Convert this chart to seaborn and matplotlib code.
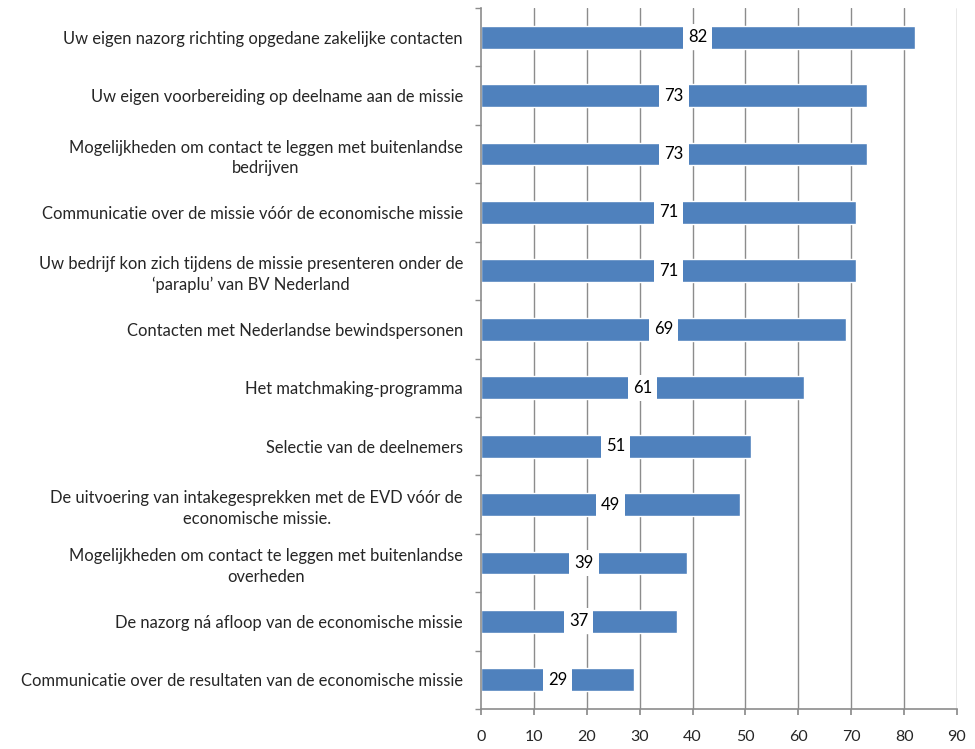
import matplotlib
matplotlib.use("Agg")
import matplotlib.pyplot as plt
import seaborn as sns
import pandas as pd
import numpy as np

categories = [
    "Uw eigen nazorg richting opgedane zakelijke contacten",
    "Uw eigen voorbereiding op deelname aan de missie",
    "Mogelijkheden om contact te leggen met buitenlandse\nbedrijven",
    "Communicatie over de missie vóór de economische missie",
    "Uw bedrijf kon zich tijdens de missie presenteren onder de\n‘paraplu’ van BV Nederland",
    "Contacten met Nederlandse bewindspersonen",
    "Het matchmaking-programma",
    "Selectie van de deelnemers",
    "De uitvoering van intakegesprekken met de EVD vóór de\neconomische missie.",
    "Mogelijkheden om contact te leggen met buitenlandse\noverheden",
    "De nazorg ná afloop van de economische missie",
    "Communicatie over de resultaten van de economische missie",
]
values = [82, 73, 73, 71, 71, 69, 61, 51, 49, 39, 37, 29]
x_ticks = list(range(0, 100, 10))

sns.set_theme(style="white")
plt.rcParams["font.family"] = ["Lato", "DejaVu Sans"]

df = pd.DataFrame({"categorie": categories, "waarde": values})

fig = plt.figure(figsize=(9.75, 7.49), dpi=100)
ax = fig.add_axes([0.4933, 0.0534, 0.9815 - 0.4933, 0.9893 - 0.0534])

grid_color = "#8c8c8c"
ax.set_axisbelow(True)
for t in x_ticks[1:]:
    ax.axvline(t, color=grid_color, lw=1.0, zorder=0)

sns.barplot(data=df, y="categorie", x="waarde", orient="h", color="#4F81BD",
            saturation=1, width=0.39, ax=ax, zorder=2)

for i, v in enumerate(values):
    ax.text(v / 2, i, f"{v}", ha="center", va="center", fontsize=12, color="black",
            zorder=3, bbox=dict(boxstyle="square,pad=0.3", fc="white", ec="none"))

ax.set_xlim(0, 90)
ax.set_ylim(len(categories) - 0.5, -0.5)
ax.set_xticks(x_ticks)
ax.set_xticklabels([str(t) for t in x_ticks], fontsize=11.5)
ax.set_yticks(np.arange(len(categories)))
ax.set_yticklabels(categories, fontsize=11.9, ha="right", multialignment="center",
                   linespacing=1.35)
ax.tick_params(axis="y", length=0, pad=13)
ax.set_yticks(np.arange(-0.5, len(categories), 1.0), minor=True)
ax.tick_params(axis="y", which="minor", length=4, color=grid_color, direction="out", left=True)
ax.tick_params(axis="x", length=4, color=grid_color, direction="out", bottom=True, pad=11)
ax.set_xlabel("")
ax.set_ylabel("")

for side in ["top", "right"]:
    ax.spines[side].set_visible(False)
for side in ["left", "bottom"]:
    ax.spines[side].set_color(grid_color)
    ax.spines[side].set_linewidth(1.2)

fig.savefig("out.png", dpi=100)
